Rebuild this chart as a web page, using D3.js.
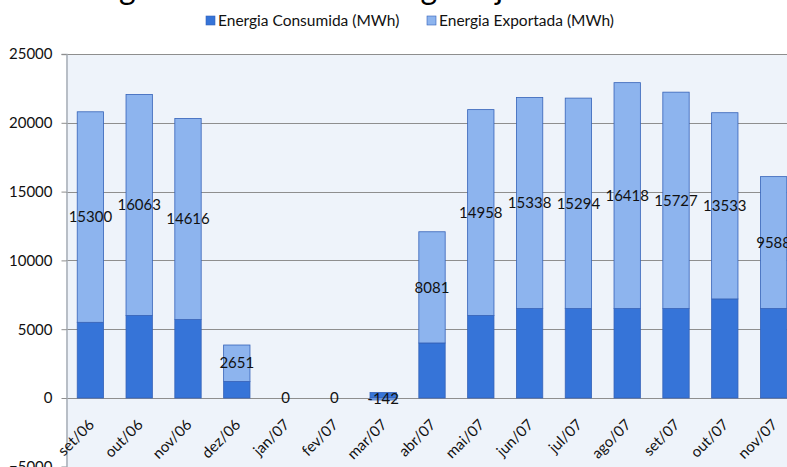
<!DOCTYPE html>
<html>
<head>
<meta charset="utf-8">
<script src="https://cdn.jsdelivr.net/npm/d3@7"></script>
<style>
  body { margin: 0; background: #ffffff; }
  svg { display: block; font-family: Lato, "Open Sans", sans-serif; }
</style>
</head>
<body>
<div id="chart"></div>
<script>
var meses = ['set/06','out/06','nov/06','dez/06','jan/07','fev/07','mar/07','abr/07','mai/07','jun/07','jul/07','ago/07','set/07','out/07','nov/07'];
var consumida = [5500, 6000, 5700, 1200, 0, 0, 400, 4000, 6000, 6500, 6500, 6500, 6500, 7200, 6500];
var exportada = [15300, 16063, 14616, 2651, 0, 0, -142, 8081, 14958, 15338, 15294, 16418, 15727, 13533, 9588];
var yTicks = [-5000, 0, 5000, 10000, 15000, 20000, 25000];

var keys = ['Energia Consumida (MWh)', 'Energia Exportada (MWh)'];
var cores = ['#3674d8', '#8db4ee'];

var width = 787, height = 467;

var svg = d3.select("#chart")
    .append("svg")
    .attr("width", width)
    .attr("height", height);

// tabela para o stack
var tabela = meses.map(function(m, i) {
    var row = { mes: m };
    row[keys[0]] = consumida[i];
    row[keys[1]] = exportada[i];
    return row;
});

var stackedData = d3.stack()
    .keys(keys)
    .offset(d3.stackOffsetDiverging)
    (tabela);

var x = d3.scaleBand()
    .domain(meses)
    .range([66, 798])
    .paddingInner(0.46)
    .paddingOuter(0.23);

var y = d3.scaleLinear()
    .domain([-5000, 25000])
    .range([466.8, 54]);

// titulo (cortado no topo)
svg.append("text")
    .attr("x", 55)
    .attr("y", -1)
    .style("font-size", "32px")
    .attr("fill", "#000")
    .text("Energia Consumida x Energia Injetada");

// area do grafico
svg.append("rect")
    .attr("x", 66)
    .attr("y", y(25000))
    .attr("width", width - 66)
    .attr("height", height - y(25000))
    .attr("fill", "#eef3fa");

// grade
svg.append("g")
    .selectAll("line")
    .data(yTicks)
    .enter()
    .append("line")
    .attr("x1", 66)
    .attr("x2", width)
    .attr("y1", function(d) { return Math.round(y(d)) + 0.5; })
    .attr("y2", function(d) { return Math.round(y(d)) + 0.5; })
    .attr("stroke", "#8e8e8e")
    .attr("stroke-width", 1);

// eixo y
var yAxis = svg.append("g")
    .attr("transform", "translate(66.5,0)")
    .call(d3.axisLeft(y).tickValues(yTicks).tickSize(5).tickPadding(9).tickFormat(d3.format("d")));
yAxis.select(".domain").attr("stroke", "#a6adb5").attr("stroke-width", 1.5);
yAxis.selectAll(".tick line").attr("stroke", "#8e8e8e");
yAxis.selectAll(".tick text")
    .style("font-size", "15px")
    .style("font-family", "Lato, sans-serif")
    .attr("fill", "#111");

// barras
svg.append("g")
    .selectAll("g")
    .data(stackedData)
    .enter()
    .append("g")
    .attr("fill", function(d, i) { return cores[i]; })
    .selectAll("rect")
    .data(function(d) { return d; })
    .enter()
    .append("rect")
    .attr("x", function(d) { return x(d.data.mes); })
    .attr("y", function(d) { return y(Math.max(d[0], d[1])); })
    .attr("width", x.bandwidth())
    .attr("height", function(d) { return Math.abs(y(d[0]) - y(d[1])); })
    .attr("stroke", "#3562b8")
    .attr("stroke-width", function(d) { return d[0] == d[1] ? 0 : 0.8; });

// rotulos da energia exportada
svg.append("g")
    .selectAll("text")
    .data(stackedData[1])
    .enter()
    .append("text")
    .attr("x", function(d) { return x(d.data.mes) + x.bandwidth() / 2; })
    .attr("y", function(d) { return y((d[0] + d[1]) / 2); })
    .attr("dy", "0.35em")
    .attr("text-anchor", "middle")
    .style("font-size", "15px")
    .attr("fill", "#111")
    .text(function(d) { return d.data[keys[1]]; });

// rotulos do eixo x
svg.append("g")
    .selectAll("text")
    .data(meses)
    .enter()
    .append("text")
    .attr("transform", function(d) {
        return "translate(" + (x(d) + x.bandwidth() / 2 + 1) + "," + 422 + ") rotate(-45)";
    })
    .attr("text-anchor", "end")
    .attr("dy", "0.35em")
    .style("font-size", "15px")
    .attr("fill", "#111")
    .text(function(d) { return d; });

// legenda
var legendX = [206, 427];
var legenda = svg.append("g")
    .selectAll("g")
    .data(keys)
    .enter()
    .append("g")
    .attr("transform", function(d, i) { return "translate(" + legendX[i] + ",16)"; });

legenda.append("rect")
    .attr("width", 9)
    .attr("height", 9)
    .attr("fill", function(d, i) { return cores[i]; })
    .attr("stroke", "#3562b8")
    .attr("stroke-width", 0.6);

legenda.append("text")
    .attr("x", 12)
    .attr("y", 4.5)
    .attr("dy", "0.35em")
    .style("font-size", "15.5px")
    .attr("fill", "#111")
    .text(function(d) { return d; });
</script>
</body>
</html>
